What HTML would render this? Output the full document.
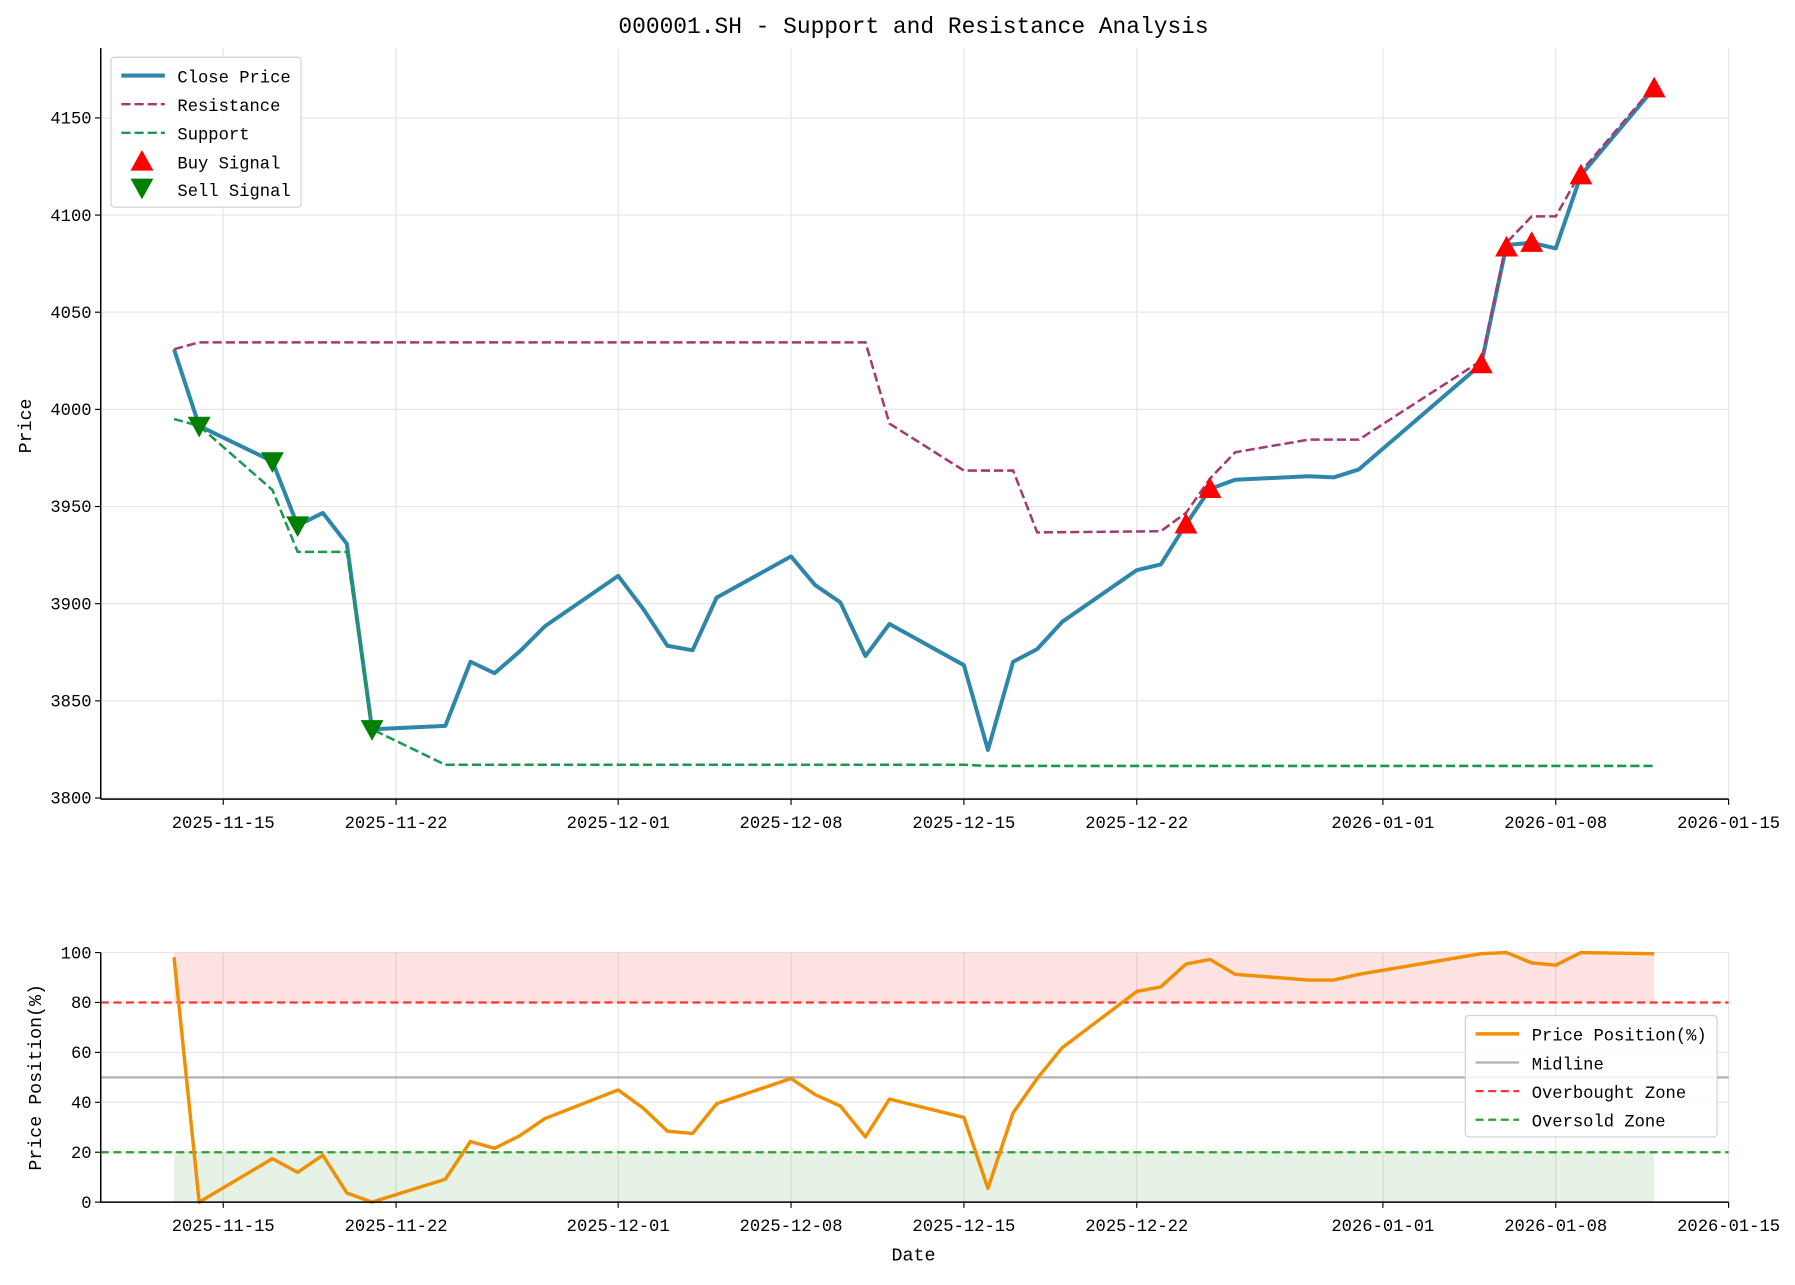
<!DOCTYPE html>
<html><head><meta charset="utf-8"><style>
body{margin:0;background:#fff}
svg text{font-family:"WenQuanYi Zen Hei Mono","Liberation Mono",monospace;fill:#000}
</style></head><body>
<svg id="s" width="1795" height="1280" viewBox="0 0 1568 1118" preserveAspectRatio="none" xmlns="http://www.w3.org/2000/svg">
<rect width="1568" height="1118" fill="#fff"/>
<g id="grid" stroke="#e6e6e6" stroke-width="1"></g>
<g id="main"></g>
<text x="798" y="29" font-size="20" text-anchor="middle">000001.SH - Support and Resistance Analysis</text>
<text x="27" y="372" font-size="16" text-anchor="middle" transform="rotate(-90 27 372)">Price</text>
<text x="36" y="941" font-size="16" text-anchor="middle" transform="rotate(-90 36 941)">Price Position(%)</text>
<text x="798" y="1101" font-size="16" text-anchor="middle">Date</text>
</svg>
<script>
const S=document.getElementById('s'),G=document.getElementById('grid'),M=document.getElementById('main');
function el(p,t,a,txt){const e=document.createElementNS('http://www.w3.org/2000/svg',t);for(const k in a)e.setAttribute(k,a[k]);if(txt!=null)e.textContent=txt;p.appendChild(e);return e;}
const xs=[195,346,540,691,842,993,1208,1359,1510],xl=['2025-11-15','2025-11-22','2025-12-01','2025-12-08','2025-12-15','2025-12-22','2026-01-01','2026-01-08','2026-01-15'];
xs.forEach(x=>{el(G,'line',{x1:x,x2:x,y1:42,y2:698});el(G,'line',{x1:x,x2:x,y1:832,y2:1050});});
for(let i=0;i<8;i++){const y=697-i*84.86;el(G,'line',{x1:88,x2:1510,y1:y,y2:y});}
for(let i=0;i<6;i++){const y=1050-i*43.6;el(G,'line',{x1:88,x2:1510,y1:y,y2:y});}
function pl(pts,st){return el(M,'polyline',Object.assign({points:pts.map(p=>p.join(',')).join(' '),fill:'none'},st));}
const res=[[152,305],[174,299],[756,299],[777,370],[842,411],[885,411],[906,465],[1014,464],[1036,448],[1057,418],[1079,395],[1143,384],[1187,384],[1294,315],[1316,212],[1338,189],[1359,189],[1381,150],[1445,75]];
const sup=[[152,366],[174,372],[238,428],[260,482],[303,482],[325,637],[389,668],[842,668],[863,669],[1445,669]];
const cp=[[152,305],[174,372],[238,403],[260,459],[282,448],[303,475],[325,637],[389,634],[411,578],[432,588],[454,569],[476,547],[540,503],[562,532],[583,564],[605,568],[626,522],[691,486],[712,511],[734,526],[756,573],[777,545],[842,581],[863,655],[885,578],[906,567],[928,543],[993,498],[1014,493],[1036,458],[1057,427],[1079,419],[1143,416],[1165,417],[1187,410],[1294,318],[1316,214],[1338,212],[1359,217],[1381,153],[1445,77]];
pl(cp,{stroke:'#2e86ab','stroke-width':3.5,'stroke-linejoin':'round'});
pl(res,{stroke:'#a23b72','stroke-width':2.2,'stroke-dasharray':'8,3.5'});
pl(sup,{stroke:'#1a9850','stroke-width':2.2,'stroke-dasharray':'8,3.5'});
function up(x,y){el(M,'polygon',{points:`${x},${y-10} ${x-10},${y+8} ${x+10},${y+8}`,fill:'#ff0000'});}
function dn(x,y){el(M,'polygon',{points:`${x},${y+10} ${x-10},${y-8} ${x+10},${y-8}`,fill:'#008000'});}
[[1036,458],[1057,427],[1294,318],[1316,216],[1338,212],[1381,153],[1445,77]].forEach(p=>up(...p));
[[174,372],[238,403],[260,459],[325,637]].forEach(p=>dn(...p));
el(M,'rect',{x:152,y:832,width:1293,height:43.6,fill:'#ff0000','fill-opacity':0.11});
el(M,'rect',{x:152,y:1006.4,width:1293,height:43.6,fill:'#008000','fill-opacity':0.1});
el(M,'line',{x1:88,x2:1510,y1:941,y2:941,stroke:'#b0b0b0','stroke-width':2});
el(M,'line',{x1:88,x2:1510,y1:875.6,y2:875.6,stroke:'#ff3333','stroke-width':2,'stroke-dasharray':'7,4'});
el(M,'line',{x1:88,x2:1510,y1:1006.4,y2:1006.4,stroke:'#2ca02c','stroke-width':2,'stroke-dasharray':'7,4'});
const pp=[[152,836],[174,1050],[238,1012],[260,1024],[282,1009],[303,1042],[325,1050],[389,1030],[411,997],[432,1003],[454,992],[476,977],[540,952],[562,968],[583,988],[605,990],[626,964],[691,942],[712,956],[734,966],[756,993],[777,960],[842,976],[863,1038],[885,972],[906,942],[928,915],[993,866],[1014,862],[1036,842],[1057,838],[1079,851],[1143,856],[1165,856],[1187,851],[1294,833],[1316,832],[1338,841],[1359,843],[1381,832],[1445,833]];
pl(pp,{stroke:'#f18f01','stroke-width':3,'stroke-linejoin':'round'});
[[42,698],[832,1050]].forEach(([t,b])=>{el(M,'line',{x1:88,x2:88,y1:t,y2:b,stroke:'#000','stroke-width':1.3});el(M,'line',{x1:88,x2:1510,y1:b,y2:b,stroke:'#000','stroke-width':1.3});
xs.forEach((x,i)=>{el(M,'line',{x1:x,x2:x,y1:b,y2:b+5,stroke:'#000'});el(M,'text',{x:x,y:b+25,'font-size':15,'text-anchor':'middle'},xl[i]);});});
for(let i=0;i<8;i++){const y=697-i*84.86;el(M,'line',{x1:83,x2:88,y1:y,y2:y,stroke:'#000'});el(M,'text',{x:80,y:y+5,'font-size':15,'text-anchor':'end'},3800+50*i);}
for(let i=0;i<6;i++){const y=1050-i*43.6;el(M,'line',{x1:83,x2:88,y1:y,y2:y,stroke:'#000'});el(M,'text',{x:80,y:y+5,'font-size':15,'text-anchor':'end'},20*i);}
el(M,'rect',{x:97,y:50,width:166,height:131,rx:3,fill:'#fff','fill-opacity':0.85,stroke:'#d0d0d0'});
const L1=[['Close Price',{stroke:'#2e86ab','stroke-width':3.5}],['Resistance',{stroke:'#a23b72','stroke-width':2,'stroke-dasharray':'8,3.5'}],['Support',{stroke:'#1a9850','stroke-width':2,'stroke-dasharray':'8,3.5'}]];
L1.forEach((l,i)=>{const y=66+i*25;el(M,'line',Object.assign({x1:106,x2:144,y1:y,y2:y},l[1]));el(M,'text',{x:155,y:y+6,'font-size':15},l[0]);});
up(124,141);el(M,'text',{x:155,y:147,'font-size':15},'Buy Signal');
dn(124,164);el(M,'text',{x:155,y:171,'font-size':15},'Sell Signal');
el(M,'rect',{x:1280,y:887,width:220,height:106,rx:3,fill:'#fff','fill-opacity':0.85,stroke:'#d0d0d0'});
const L2=[['Price Position(%)',{stroke:'#f18f01','stroke-width':3}],['Midline',{stroke:'#b0b0b0','stroke-width':2}],['Overbought Zone',{stroke:'#ff3333','stroke-width':2,'stroke-dasharray':'7,4'}],['Oversold Zone',{stroke:'#2ca02c','stroke-width':2,'stroke-dasharray':'7,4'}]];
L2.forEach((l,i)=>{const y=903+i*25;el(M,'line',Object.assign({x1:1289,x2:1327,y1:y,y2:y},l[1]));el(M,'text',{x:1338,y:y+6,'font-size':15},l[0]);});
</script>
</body></html>
